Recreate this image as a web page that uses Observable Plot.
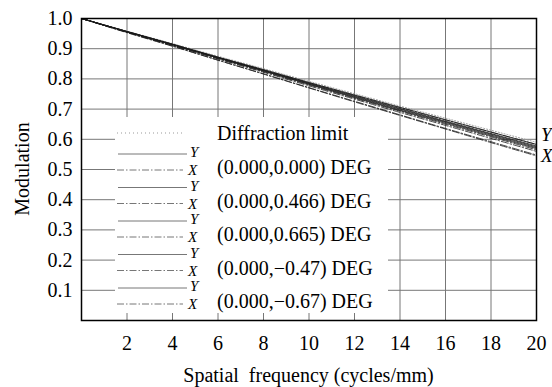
<!DOCTYPE html>
<html>
<head>
<meta charset="utf-8">
<script src="https://cdn.jsdelivr.net/npm/d3@7"></script>
<script src="https://cdn.jsdelivr.net/npm/@observablehq/plot@0.6"></script>
<style>
  html, body { margin: 0; padding: 0; background: white; }
  svg text { font-family: "Liberation Serif", "Times New Roman", Times, serif !important; }
</style>
</head>
<body>
<div id="chart"></div>
<script>
// ---- data ----
const freq = [0, 2, 4, 6, 8, 10, 12, 14, 16, 18, 20];
const diffraction = [1, 0.958, 0.917, 0.875, 0.834, 0.792, 0.751, 0.710, 0.670, 0.630, 0.590];
const f000Y  = [1, 0.957, 0.915, 0.872, 0.831, 0.788, 0.747, 0.706, 0.665, 0.624, 0.583];
const f000X  = [1, 0.957, 0.914, 0.872, 0.830, 0.788, 0.746, 0.705, 0.664, 0.624, 0.583];
const f466Y  = [1, 0.957, 0.915, 0.871, 0.829, 0.786, 0.744, 0.702, 0.660, 0.619, 0.578];
const f466X  = [1, 0.955, 0.912, 0.867, 0.824, 0.780, 0.736, 0.693, 0.650, 0.608, 0.565];
const f665Y  = [1, 0.956, 0.913, 0.870, 0.827, 0.783, 0.740, 0.697, 0.656, 0.614, 0.572];
const f665X  = [1, 0.954, 0.909, 0.862, 0.817, 0.771, 0.726, 0.681, 0.636, 0.592, 0.548];
const fm47Y  = [1, 0.956, 0.914, 0.870, 0.828, 0.785, 0.742, 0.700, 0.658, 0.617, 0.575];
const fm47X  = [1, 0.955, 0.911, 0.866, 0.822, 0.777, 0.733, 0.689, 0.646, 0.603, 0.560];
const fm67Y  = [1, 0.956, 0.913, 0.869, 0.826, 0.782, 0.738, 0.695, 0.653, 0.611, 0.569];
const fm67X  = [1, 0.953, 0.908, 0.862, 0.816, 0.770, 0.724, 0.679, 0.634, 0.589, 0.545];

const fieldLabels = ["(0.000,0.000) DEG", "(0.000,0.466) DEG", "(0.000,0.665) DEG", "(0.000,\u22120.47) DEG", "(0.000,\u22120.67) DEG"];
const diffLabel = "Diffraction limit";
const xTicks = [2, 4, 6, 8, 10, 12, 14, 16, 18, 20];
const yTicks = [0.1, 0.2, 0.3, 0.4, 0.5, 0.6, 0.7, 0.8, 0.9, 1.0];
const xGrid = [2, 4, 6, 8, 10, 12, 14, 16, 18];
const yGrid = [0.1, 0.2, 0.3, 0.4, 0.5, 0.6, 0.7, 0.8, 0.9];
const xTitle = "Spatial\u00a0 frequency (cycles/mm)";
const yTitle = "Modulation";

// ---- build tables ----
function toRows(name, vals) { return freq.map((f, i) => ({f, m: vals[i], series: name})); }
const diffRows = toRows("diff", diffraction);
const yRows = [f000Y, f466Y, f665Y, fm47Y, fm67Y].flatMap((v, i) => toRows("Y" + i, v));
const xRows = [f000X, f466X, f665X, fm47X, fm67X].flatMap((v, i) => toRows("X" + i, v));

const FONT = '"Liberation Serif", "Times New Roman", Times, serif';
const FS = 20;
const curveColor = "#1a1a1a";
const dashDot = "7,2,1.5,2";

const chart = Plot.plot({
  width: 552,
  height: 387,
  marginLeft: 81,
  marginRight: 16,
  marginTop: 18,
  marginBottom: 67,
  style: {fontFamily: FONT, fontSize: FS + "px", background: "white", color: "black", overflow: "visible"},
  x: {domain: [0, 20]},
  y: {domain: [0, 1]},
  marks: [
    Plot.gridX(xGrid, {stroke: "#777", strokeOpacity: 1, strokeWidth: 1}),
    Plot.gridY(yGrid, {stroke: "#777", strokeOpacity: 1, strokeWidth: 1}),
    Plot.line(diffRows, {x: "f", y: "m", z: "series", stroke: "#999", strokeWidth: 1, strokeDasharray: "1,2", curve: "monotone-x"}),
    Plot.line(xRows, {x: "f", y: "m", z: "series", stroke: curveColor, strokeWidth: 0.8, strokeDasharray: dashDot, curve: "monotone-x"}),
    Plot.line(yRows, {x: "f", y: "m", z: "series", stroke: curveColor, strokeWidth: 0.8, curve: "monotone-x"}),
    Plot.frame({stroke: "black", strokeWidth: 1.5}),
    Plot.axisX({ticks: xTicks, tickSize: 0, tickPadding: 15, tickFormat: d => String(d), label: null, fontSize: FS}),
    Plot.axisY({ticks: yTicks, tickSize: 0, tickPadding: 9, tickFormat: d3.format(".1f"), label: null, fontSize: FS})
  ]
});

document.getElementById("chart").appendChild(chart);

const svg = d3.select(chart);
const xs = chart.scale("x");
const ys = chart.scale("y");

function addText(parent, x, y, str, opts = {}) {
  return parent.append("text")
    .attr("x", x).attr("y", y).attr("dy", "0.35em")
    .attr("text-anchor", opts.anchor || "start")
    .style("font-family", FONT)
    .style("font-size", (opts.size || FS) + "px")
    .style("font-style", opts.italic ? "italic" : "normal")
    .attr("fill", "black")
    .text(str);
}

// axis titles
addText(svg, (xs.apply(0) + xs.apply(20)) / 2, 375, xTitle, {anchor: "middle"});
svg.append("text")
  .attr("transform", `translate(22,${(ys.apply(0) + ys.apply(1)) / 2}) rotate(-90)`)
  .attr("dy", "0.35em")
  .attr("text-anchor", "middle")
  .style("font-family", FONT).style("font-size", FS + "px")
  .attr("fill", "black")
  .text(yTitle);

// right-end Y / X labels
const endX = xs.apply(20) + 5;
addText(svg, endX, 134, "Y", {italic: true, size: 19});
addText(svg, endX, 155, "X", {italic: true, size: 19});

// legend
const lg = svg.append("g");
lg.append("rect").attr("x", 115).attr("y", 117).attr("width", 273).attr("height", 196).attr("fill", "white");
lg.append("line").attr("x1", 117).attr("x2", 183).attr("y1", 133).attr("y2", 133)
  .attr("stroke", "#999").attr("stroke-width", 1).attr("stroke-dasharray", "1,3");
addText(lg, 217, 133, diffLabel);
fieldLabels.forEach((lab, i) => {
  const y0 = 154 + i * 33.5;
  lg.append("line").attr("x1", 118).attr("x2", 187).attr("y1", y0).attr("y2", y0)
    .attr("stroke", "#777").attr("stroke-width", 1);
  lg.append("line").attr("x1", 117).attr("x2", 183).attr("y1", y0 + 16).attr("y2", y0 + 16)
    .attr("stroke", "#777").attr("stroke-width", 1).attr("stroke-dasharray", dashDot);
  addText(lg, 190, y0 - 2, "Y", {italic: true, size: 15});
  addText(lg, 188, y0 + 16, "X", {italic: true, size: 15});
  addText(lg, 217, y0 + 13, lab);
});
</script>
</body>
</html>
